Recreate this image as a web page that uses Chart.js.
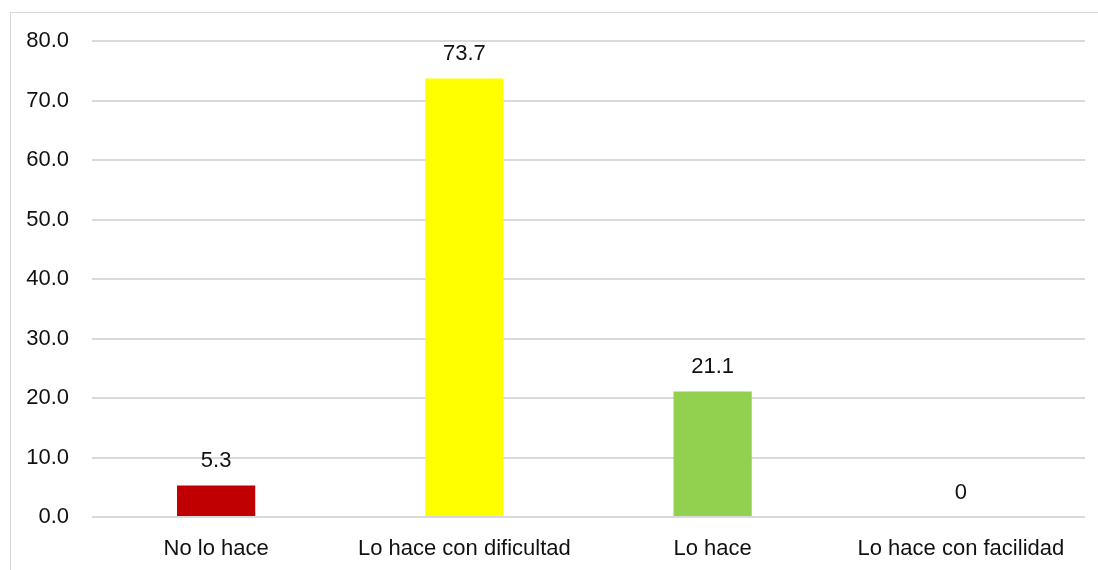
<!DOCTYPE html>
<html>
<head>
<meta charset="utf-8">
<script src="https://cdn.jsdelivr.net/npm/chart.js@4/dist/chart.umd.min.js"></script>
<style>
  html, body { margin: 0; padding: 0; background: #fff; }
  #wrap { position: relative; width: 1098px; height: 570px; overflow: hidden; }
  #frame {
    position: absolute; left: 10px; top: 12px; width: 1200px; height: 700px;
    border-left: 1px solid #d9d9d9; border-top: 1px solid #d9d9d9;
  }
  canvas { position: absolute; left: 0; top: 0; }
</style>
</head>
<body>
<div id="wrap">
  <div id="frame"></div>
  <canvas id="chart" width="1098" height="570"></canvas>
</div>
<script>
const categories = ["No lo hace", "Lo hace con dificultad", "Lo hace", "Lo hace con facilidad"];
const values = [5.3, 73.7, 21.1, 0];
const valueLabels = ["5.3", "73.7", "21.1", "0"];
const barColors = ["#C00000", "#FFFF00", "#92D050", "#4472C4"];
const yTicks = [0, 10, 20, 30, 40, 50, 60, 70, 80];

const FONT = "'Liberation Sans', Arial, sans-serif";

// labels above each bar
const valueLabelPlugin = {
  id: "valueLabels",
  afterDatasetsDraw(chart) {
    const ctx = chart.ctx;
    const meta = chart.getDatasetMeta(0);
    ctx.save();
    ctx.font = `22px ${FONT}`;
    ctx.fillStyle = "#111";
    ctx.textAlign = "center";
    ctx.textBaseline = "alphabetic";
    meta.data.forEach((bar, i) => {
      ctx.fillText(valueLabels[i], bar.x, bar.y - 18);
    });
    ctx.restore();
  },
};

new Chart(document.getElementById("chart"), {
  type: "bar",
  data: {
    labels: categories,
    datasets: [
      {
        data: values,
        backgroundColor: barColors,
        borderWidth: 0,
        barPercentage: 0.315,
        categoryPercentage: 1,
      },
    ],
  },
  options: {
    responsive: false,
    animation: false,
    events: [],
    layout: { padding: { top: 41, right: 13, left: 0, bottom: 0 } },
    plugins: { legend: { display: false }, tooltip: { enabled: false } },
    scales: {
      x: {
        grid: { display: false, drawTicks: false },
        border: { display: false },
        ticks: { color: "#111", font: { family: FONT, size: 22 }, padding: 19, maxRotation: 0, autoSkip: false },
        afterFit: (scale) => { scale.height = 53; },
      },
      y: {
        min: 0,
        max: 80,
        afterBuildTicks: (scale) => { scale.ticks = yTicks.map((v) => ({ value: v })); },
        grid: { color: "#d9d9d9", lineWidth: 2, drawTicks: false },
        border: { display: false },
        ticks: {
          color: "#111",
          font: { family: FONT, size: 22 },
          padding: 23,
          callback: (v) => Number(v).toFixed(1),
        },
        afterFit: (scale) => { scale.width = 92; },
      },
    },
  },
  plugins: [valueLabelPlugin],
});
</script>
</body>
</html>
